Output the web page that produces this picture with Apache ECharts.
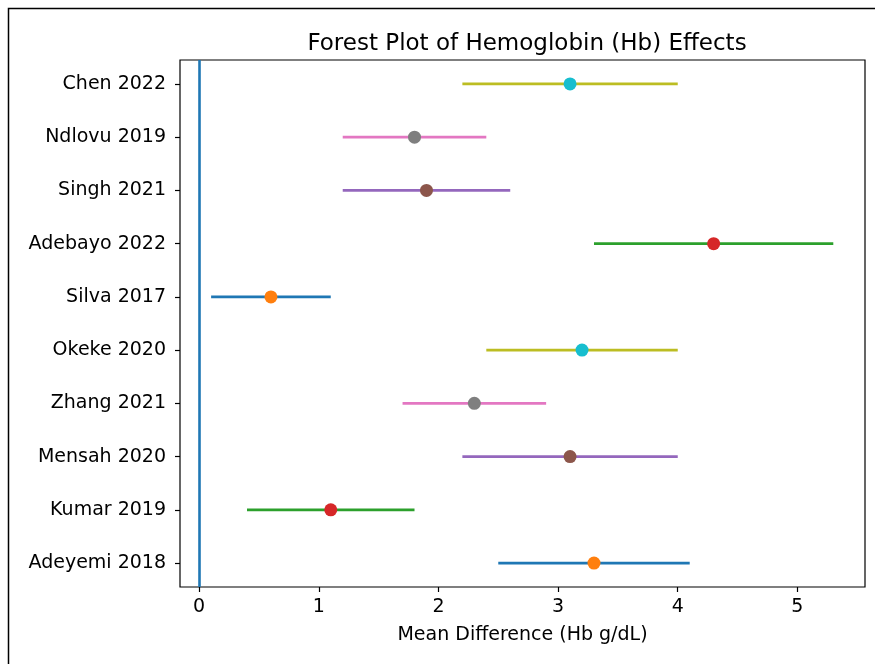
<!DOCTYPE html>
<html>
<head>
<meta charset="utf-8">
<script src="https://cdn.jsdelivr.net/npm/echarts@6/dist/echarts.min.js"></script>
<style>
html,body{margin:0;padding:0;background:#fff;}
#chart{width:875px;height:664px;}
</style>
</head>
<body>
<div id="chart"></div>
<script>
// Studies listed bottom (index 0) to top
const studies = ['Adeyemi 2018','Kumar 2019','Mensah 2020','Zhang 2021','Okeke 2020','Silva 2017','Adebayo 2022','Singh 2021','Ndlovu 2019','Chen 2022'];
const meanDiff = [3.3, 1.1, 3.1, 2.3, 3.2, 0.6, 4.3, 1.9, 1.8, 3.1];
const ciLower  = [2.5, 0.4, 2.2, 1.7, 2.4, 0.1, 3.3, 1.2, 1.2, 2.2];
const ciUpper  = [4.1, 1.8, 4.0, 2.9, 4.0, 1.1, 5.3, 2.6, 2.4, 4.0];
const xTicks = [0, 1, 2, 3, 4, 5];

const tab10 = ['#1f77b4','#ff7f0e','#2ca02c','#d62728','#9467bd','#8c564b','#e377c2','#7f7f7f','#bcbd22','#17becf'];
const lineColors = studies.map((_, i) => tab10[(2 * i) % 10]);
const pointColors = studies.map((_, i) => tab10[(2 * i + 1) % 10]);

const FONT = 'DejaVu Sans';
const chart = echarts.init(document.getElementById('chart'));

const series = [];
studies.forEach((s, i) => {
  series.push({
    type: 'line',
    data: [[ciLower[i], i], [ciUpper[i], i]],
    symbol: 'none',
    lineStyle: { color: lineColors[i], width: 2.8 },
    silent: true,
    z: 2 + i * 2,
    animation: false
  });
  series.push({
    type: 'scatter',
    data: [[meanDiff[i], i]],
    symbol: 'circle',
    symbolSize: 13,
    itemStyle: { color: pointColors[i], opacity: 1 },
    silent: true,
    z: 3 + i * 2,
    animation: false
  });
});
// vertical reference line at 0
series.push({
  type: 'line',
  data: [],
  silent: true,
  animation: false,
  z: 30,
  markLine: {
    silent: true,
    symbol: 'none',
    label: { show: false },
    lineStyle: { color: '#1f77b4', width: 2.6, type: 'solid' },
    data: [{ xAxis: 0 }],
    animation: false
  }
});

chart.setOption({
  animation: false,
  backgroundColor: '#fff',
  title: {
    text: 'Forest Plot of Hemoglobin (Hb) Effects',
    left: 522,
    textAlign: 'center',
    top: 28,
    textStyle: { fontFamily: FONT, fontSize: 23, fontWeight: 'normal', color: '#000' }
  },
  graphic: [{
    type: 'rect',
    shape: { x: 8.5, y: 8.5, width: 1000, height: 1000 },
    style: { fill: 'none', stroke: '#000', lineWidth: 1.5 },
    silent: true,
    z: 100
  }],
  grid: {
    left: 180, top: 60, width: 685, height: 527,
    show: true, borderColor: '#000', borderWidth: 1.2, backgroundColor: 'transparent'
  },
  xAxis: {
    type: 'value',
    min: -0.16, max: 5.565,
    name: 'Mean Difference (Hb g/dL)',
    nameLocation: 'middle',
    nameGap: 39,
    nameTextStyle: { fontFamily: FONT, fontSize: 19, color: '#000' },
    axisLine: { show: false, onZero: false },
    splitLine: { show: false },
    axisTick: { show: true, customValues: xTicks, length: 5, lineStyle: { color: '#000', width: 1.2 } },
    axisLabel: { customValues: xTicks, margin: 11, fontFamily: FONT, fontSize: 19, color: '#000' }
  },
  yAxis: {
    type: 'value',
    min: -0.45, max: 9.45,
    axisLine: { show: false, onZero: false },
    splitLine: { show: false },
    axisTick: { show: true, customValues: studies.map((_, i) => i), length: 5, lineStyle: { color: '#000', width: 1.2 } },
    axisLabel: {
      customValues: studies.map((_, i) => i),
      formatter: v => studies[Math.round(v)],
      margin: 14, fontFamily: FONT, fontSize: 19, color: '#000'
    }
  },
  series: series
});
</script>
</body>
</html>
